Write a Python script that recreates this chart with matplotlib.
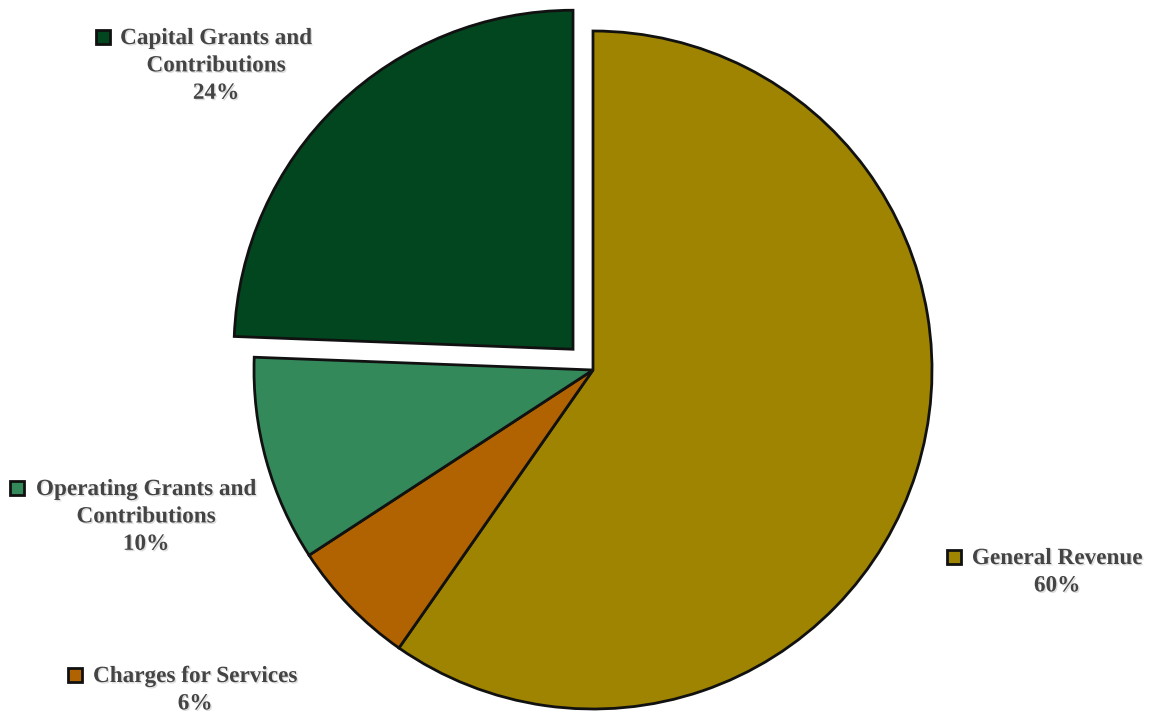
import matplotlib
matplotlib.use("Agg")
import matplotlib.pyplot as plt
import matplotlib.patheffects as pe

# ---- data ----
categories = ["General Revenue", "Charges for Services",
              "Operating Grants and\nContributions", "Capital Grants and\nContributions"]
shares = [59.7, 6.1, 9.8, 24.4]
colors = ["#9e8400", "#b06300", "#33895a", "#01461f"]
explode_frac = [0, 0, 0, 0.085]

W, H = 1151, 713
fig = plt.figure(figsize=(W / 100, H / 100), dpi=100)
ax = fig.add_axes([0, 0, 1, 1])

R = 339
cx, cy = 593, H - 370
ax.pie(shares, colors=colors, startangle=90, counterclock=False,
       radius=R, center=(cx, cy), explode=[e * R for e in explode_frac],
       wedgeprops=dict(edgecolor="#111111", linewidth=2.0), frame=True)
ax.set_xlim(0, W)
ax.set_ylim(0, H)
ax.set_aspect("equal")
ax.axis("off")

# label layout: (text center x, first line center y, marker x) in image pixels
layout = [(1057, 557, 954), (195, 675, 75), (146, 488, 17), (216, 37, 103)]
fs = 16.7
for cat, val, col, (tx, ty, mx) in zip(categories, shares, colors, layout):
    txt = f"{cat}\n{round(val):d}%"
    ax.text(tx, H - ty + 9, txt, ha="center", va="top", fontsize=fs,
            fontfamily="Liberation Serif", fontweight="bold", color="#444444",
            linespacing=1.4,
            path_effects=[pe.withSimplePatchShadow(offset=(1, -1), shadow_rgbFace="#aaaaaa", alpha=0.4)])
    ax.plot([mx], [H - ty], marker="s", markersize=10, markerfacecolor=col,
            markeredgecolor="#111111", markeredgewidth=2, linestyle="none")

fig.savefig("out.png", dpi=100, facecolor="white")
